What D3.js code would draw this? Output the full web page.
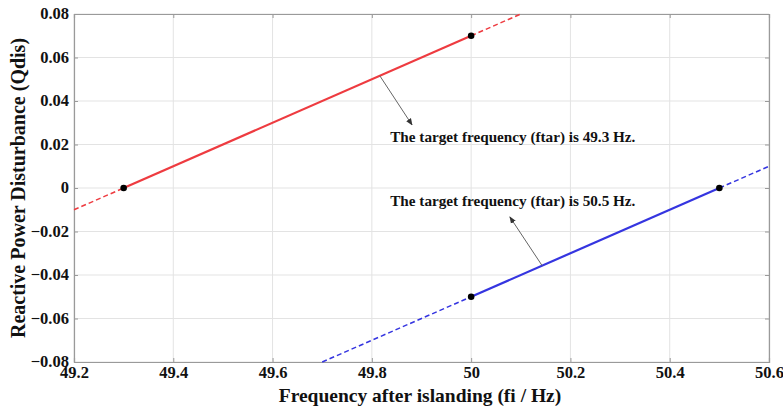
<!DOCTYPE html>
<html>
<head>
<meta charset="utf-8">
<script src="https://cdn.jsdelivr.net/npm/d3@7"></script>
<style>
  body { margin: 0; background: #fff; }
  text { font-family: "Liberation Serif", "Times New Roman", serif; font-weight: bold; fill: #111; }
</style>
</head>
<body>
<svg id="chart" width="783" height="406"></svg>
<script>
// data
var xTicks = [49.2, 49.4, 49.6, 49.8, 50, 50.2, 50.4, 50.6];
var yTicks = [-0.08, -0.06, -0.04, -0.02, 0, 0.02, 0.04, 0.06, 0.08];

// red line (ftar = 49.3 Hz)
var redDashLeft  = [[49.2, -0.01], [49.3, 0]];
var redSolid     = [[49.3, 0], [50, 0.07]];
var redDashRight = [[50, 0.07], [50.1, 0.08]];
var redDots      = [[49.3, 0], [50, 0.07]];

// blue line (ftar = 50.5 Hz)
var blueDashLeft  = [[49.7, -0.08], [50, -0.05]];
var blueSolid     = [[50, -0.05], [50.5, 0]];
var blueDashRight = [[50.5, 0], [50.6, 0.01]];
var blueDots      = [[50, -0.05], [50.5, 0]];

var notes = [
  { text: "The target frequency (ftar) is 49.3 Hz.", at: [49.837, 0.0211], from: [49.816, 0.0516], to: [49.881, 0.029] },
  { text: "The target frequency (ftar) is 50.5 Hz.", at: [49.837, -0.0083], from: [50.143, -0.0357], to: [50.078, -0.0133] }
];

var margin = { left: 74, top: 14, right: 14, bottom: 44 };
var width = 783, height = 406;

var svg = d3.select('#chart');

var x = d3.scaleLinear().domain([49.2, 50.6]).range([margin.left, width - margin.right]);
var y = d3.scaleLinear().domain([-0.08, 0.08]).range([height - margin.bottom, margin.top]);

// 网格
svg.append('g')
  .selectAll('line')
  .data(xTicks)
  .enter()
  .append('line')
  .attr('x1', d => x(d)).attr('x2', d => x(d))
  .attr('y1', y(0.08)).attr('y2', y(-0.08))
  .attr('stroke', '#e3e3e3');

svg.append('g')
  .selectAll('line')
  .data(yTicks)
  .enter()
  .append('line')
  .attr('y1', d => y(d)).attr('y2', d => y(d))
  .attr('x1', x(49.2)).attr('x2', x(50.6))
  .attr('stroke', '#e3e3e3');

// axes, ticks pointing inward
var xAxis = svg.append('g')
  .attr('transform', 'translate(0,' + y(-0.08) + ')')
  .call(d3.axisBottom(x).tickValues(xTicks).tickSize(-4).tickPadding(6).tickFormat(d3.format('')));
svg.append('g')
  .attr('transform', 'translate(0,' + y(0.08) + ')')
  .call(d3.axisTop(x).tickValues(xTicks).tickSize(-4).tickFormat(''));
var yAxis = svg.append('g')
  .attr('transform', 'translate(' + x(49.2) + ',0)')
  .call(d3.axisLeft(y).tickValues(yTicks).tickSize(-4).tickPadding(5).tickFormat(d3.format('')));
svg.append('g')
  .attr('transform', 'translate(' + x(50.6) + ',0)')
  .call(d3.axisRight(y).tickValues(yTicks).tickSize(-4).tickFormat(''));

svg.selectAll('.domain').attr('stroke', '#9a9a9a').attr('stroke-width', 1.2);
svg.selectAll('.tick line').attr('stroke', '#9a9a9a');
svg.selectAll('.tick text')
  .attr('font-family', null)
  .style('font-family', '"Liberation Serif", serif')
  .style('font-weight', 'bold')
  .style('font-size', '16.5px')
  .attr('fill', '#222');
xAxis.selectAll('.tick text').attr('dy', '0.6em');
yAxis.selectAll('.tick text').attr('dy', '0.3em');

// axis titles
svg.append('text')
  .attr('x', 420)
  .attr('y', 402)
  .attr('text-anchor', 'middle')
  .style('font-size', '19.5px')
  .text('Frequency after islanding (fi / Hz)');

svg.append('text')
  .attr('transform', 'translate(25,' + 188 + ') rotate(-90)')
  .attr('text-anchor', 'middle')
  .style('font-size', '20px')
  .text('Reactive Power Disturbance (Qdis)');

// lines
var line = d3.line().x(d => x(d[0])).y(d => y(d[1]));

function drawLine(pts, color, dashed) {
  svg.append('path')
    .datum(pts)
    .attr('d', line)
    .attr('fill', 'none')
    .attr('stroke', color)
    .attr('stroke-width', dashed ? 1.5 : 2.2)
    .attr('stroke-dasharray', dashed ? '5,3' : null);
}

drawLine(redDashLeft, '#ee3b40', true);
drawLine(redSolid, '#ee3b40', false);
drawLine(redDashRight, '#ee3b40', true);
drawLine(blueDashLeft, '#3535e0', true);
drawLine(blueSolid, '#3535e0', false);
drawLine(blueDashRight, '#3535e0', true);

svg.append('g')
  .selectAll('circle')
  .data(redDots.concat(blueDots))
  .enter()
  .append('circle')
  .attr('cx', d => x(d[0]))
  .attr('cy', d => y(d[1]))
  .attr('r', 3.3)
  .attr('fill', '#000');

// annotations
var defs = svg.append('defs');
defs.append('marker')
  .attr('id', 'arrow')
  .attr('viewBox', '0 0 10 10')
  .attr('refX', 9).attr('refY', 5)
  .attr('markerWidth', 7).attr('markerHeight', 7)
  .attr('orient', 'auto')
  .append('path')
  .attr('d', 'M0,1 L10,5 L0,9 Z')
  .attr('fill', '#333');

notes.forEach(function (n) {
  svg.append('line')
    .attr('x1', x(n.from[0])).attr('y1', y(n.from[1]))
    .attr('x2', x(n.to[0])).attr('y2', y(n.to[1]))
    .attr('stroke', '#666')
    .attr('stroke-width', 1)
    .attr('marker-end', 'url(#arrow)');
  svg.append('text')
    .attr('x', x(n.at[0]))
    .attr('y', y(n.at[1]))
    .style('font-size', '15.2px')
    .text(n.text);
});
</script>
</body>
</html>
